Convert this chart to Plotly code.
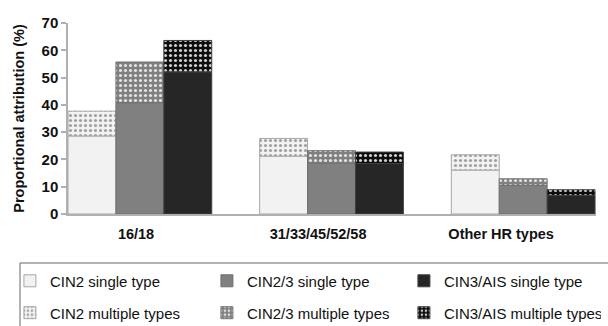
import plotly.graph_objects as go

categories = ["16/18", "31/33/45/52/58", "Other HR types"]
label_pos = [-0.02, 0.93, 1.885]

cin2_single = [28.6, 21.2, 16.1]
cin2_multi = [9.1, 6.5, 5.6]
cin23_single = [40.8, 18.6, 10.5]
cin23_multi = [14.9, 4.6, 2.4]
cin3_single = [52.1, 18.5, 6.8]
cin3_multi = [11.5, 4.2, 2.1]

y_ticks = [0, 10, 20, 30, 40, 50, 60, 70]

FONT = "Liberation Sans, Arial, sans-serif"
xs = list(range(len(categories)))
W = 0.25

fig = go.Figure()

levels = [
    ("CIN2", cin2_single, cin2_multi, "#f2f2f2", "#a8a8a8", "#a0a0a0"),
    ("CIN2/3", cin23_single, cin23_multi, "#808080", "#707070", "#e4e4e4"),
    ("CIN3/AIS", cin3_single, cin3_multi, "#262626", "#404040", "#d0d0d0"),
]

for i, (name, single, multi, col, line, fg) in enumerate(levels):
    off = -0.375 + i * W
    fig.add_trace(go.Bar(
        x=xs, y=single, name=f"{name} single type",
        width=W, offset=off,
        marker=dict(color=col, line=dict(color=line, width=1)),
        legend="legend",
    ))
    bg = col if i < 2 else "#0d0d0d"
    fig.add_trace(go.Bar(
        x=xs, y=multi, base=single, name=f"{name} multiple types",
        width=W, offset=off,
        marker=dict(color=bg, line=dict(color=line, width=1),
                    pattern=dict(shape=".", bgcolor=bg, fgcolor=fg,
                                 size=5, solidity=0.3, fillmode="replace")),
        legend="legend2",
    ))

leg_common = dict(
    orientation="h", font=dict(family=FONT, size=15, color="#111"),
    entrywidth=152, entrywidthmode="pixels",
    bgcolor="rgba(0,0,0,0)", borderwidth=0,
    xanchor="left", yanchor="middle", x=-0.11,
    itemclick=False, tracegroupgap=0,
)

fig.update_layout(
    width=608, height=326,
    margin=dict(l=68, r=12, t=23, b=112, autoexpand=False),
    paper_bgcolor="white", plot_bgcolor="white",
    barmode="overlay",
    showlegend=True,
    legend=dict(**leg_common, y=-0.351),
    legend2=dict(**leg_common, y=-0.518),
    font=dict(family=FONT, color="#111"),
    xaxis=dict(
        range=[-0.375, 2.38],
        tickmode="array", tickvals=label_pos, ticktext=categories,
        tickfont=dict(family=FONT, size=14.5, color="#111", weight="bold"),
        showgrid=False, zeroline=False,
        showline=True, linecolor="#b0b0b0", linewidth=1.5,
        ticks="", ticklabelstandoff=6,
    ),
    yaxis=dict(
        range=[0, 70], tickvals=y_ticks,
        tickfont=dict(family=FONT, size=15, color="#111", weight="bold"),
        showgrid=False, zeroline=False,
        showline=True, linecolor="#b0b0b0", linewidth=1.5,
        ticks="outside", ticklen=5, tickcolor="#b0b0b0", tickwidth=1.5,
        title=dict(text="Proportional attribution (%)",
                   font=dict(family=FONT, size=14.5, color="#111", weight="bold"),
                   standoff=13),
    ),
    shapes=[dict(type="rect", xref="paper", yref="paper",
                 x0=-0.0909, x1=1.05, y0=-0.2565, y1=-0.7,
                 line=dict(color="#666", width=1), fillcolor="rgba(0,0,0,0)")],
)

fig.write_html("out.html",
               config={"displayModeBar": False},
               post_script="document.body.style.margin='0';document.body.style.overflow='hidden';")
